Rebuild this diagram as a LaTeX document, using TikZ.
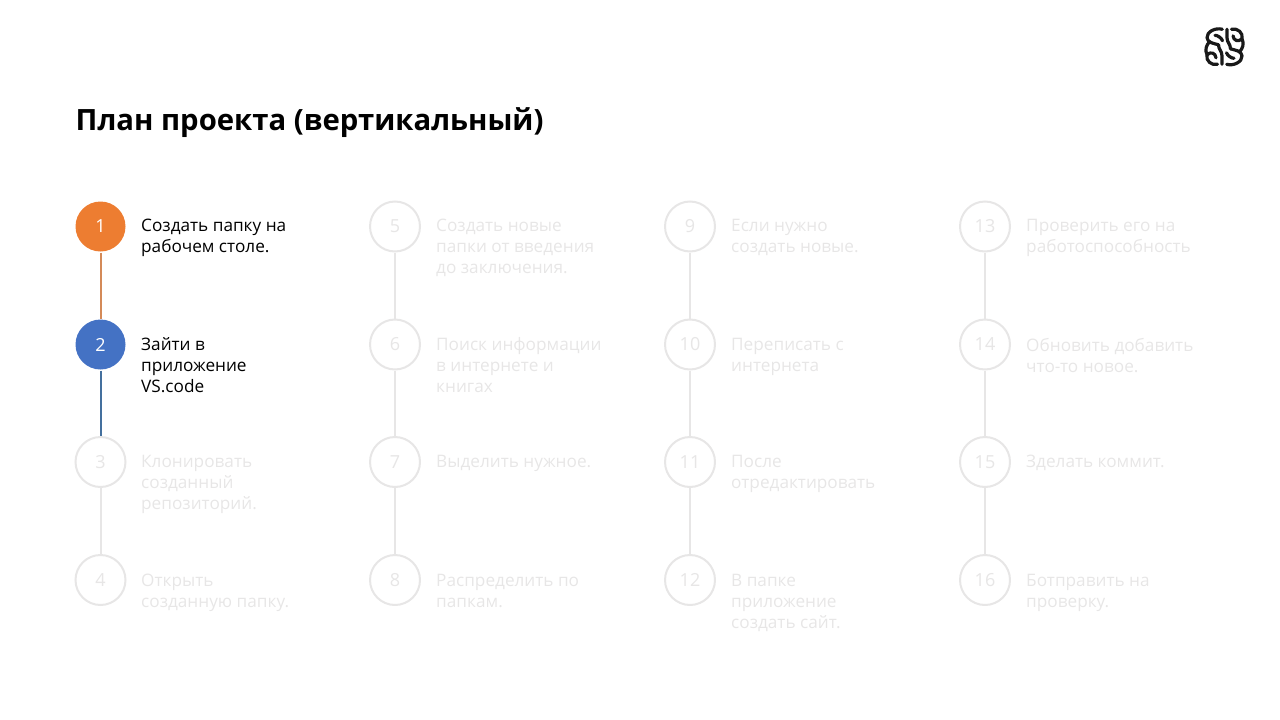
\documentclass[tikz,border=0pt]{standalone}
\usepackage{fontspec}
\setmainfont{Open Sans}
\newfontfamily\headfont{Open Sans}[BoldFont={Open Sans Bold}]
\definecolor{faint}{HTML}{E7E6E6}
\definecolor{orangeA}{HTML}{ED7D31}
\definecolor{blueA}{HTML}{4472C4}
\definecolor{orangeL}{HTML}{D48A58}
\definecolor{blueL}{HTML}{44709E}
\tikzset{
  numdot/.style={circle,minimum size=50pt,inner sep=0pt,line width=2pt,font=\fontsize{18}{21}\selectfont},
  donedot/.style={numdot,text=white},
  faintdot/.style={numdot,draw=faint,fill=white,text=faint},
  steptext/.style={anchor=north west,align=left,inner sep=0pt,font=\fontsize{17.2}{21}\selectfont,execute at begin node={\strut}},
  faintlabel/.style={steptext,text=faint},
  darklabel/.style={steptext,text=black},
  link/.style={line width=2pt,draw=faint},
  brain/.style={line width=3.2pt,draw=black!90,line cap=round,line join=round}
}
\begin{document}
\begin{tikzpicture}[x=1pt,y=-1pt]
\useasboundingbox (0,0) rectangle (1280,720);
\node[anchor=west,inner sep=0pt,font=\headfont\bfseries\fontsize{29.3}{36}\selectfont] (title) at (75.5,123) {План проекта (вертикальный)};
\node[donedot,fill=orangeA] (n1) at (100.5,226.5) {1};
\node[donedot,fill=blueA] (n2) at (100.5,344.5) {2};
\node[faintdot] (n3) at (100.5,462) {3};
\node[faintdot] (n4) at (100.5,580) {4};
\node[faintdot] (n5) at (395,226.5) {5};
\node[faintdot] (n6) at (395,344.5) {6};
\node[faintdot] (n7) at (395,462) {7};
\node[faintdot] (n8) at (395,580) {8};
\node[faintdot] (n9) at (690,226.5) {9};
\node[faintdot] (n10) at (690,344.5) {10};
\node[faintdot] (n11) at (690,462) {11};
\node[faintdot] (n12) at (690,580) {12};
\node[faintdot] (n13) at (985,226.5) {13};
\node[faintdot] (n14) at (985,344.5) {14};
\node[faintdot] (n15) at (985,462) {15};
\node[faintdot] (n16) at (985,580) {16};
\draw[link,draw=orangeL] (n1) -- (n2);
\draw[link,draw=blueL] (n2) -- (n3);
\draw[link] (n3) -- (n4);
\draw[link] (n5) -- (n6);
\draw[link] (n6) -- (n7);
\draw[link] (n7) -- (n8);
\draw[link] (n9) -- (n10);
\draw[link] (n10) -- (n11);
\draw[link] (n11) -- (n12);
\draw[link] (n13) -- (n14);
\draw[link] (n14) -- (n15);
\draw[link] (n15) -- (n16);
\node[darklabel] (t1) at (141,219.3) {Создать папку на\\рабочем столе.};
\node[darklabel] (t2) at (141,337.7) {Зайти в\\приложение\\VS.code};
\node[faintlabel] (t3) at (141,455.3) {Клонировать\\созданный\\репозиторий.};
\node[faintlabel] (t4) at (141,574.3) {Открыть\\созданную папку.};
\node[faintlabel] (t5) at (436,219.3) {Создать новые\\папки от введения\\до заключения.};
\node[faintlabel] (t6) at (436,337.7) {Поиск информации\\в интернете и\\книгах};
\node[faintlabel] (t7) at (436,452.9) {Выделить нужное.};
\node[faintlabel] (t8) at (436,574.3) {Распределить по\\папкам.};
\node[faintlabel] (t9) at (731,219.3) {Если нужно\\создать новые.};
\node[faintlabel] (t10) at (731,337.7) {Переписать с\\интернета};
\node[faintlabel] (t11) at (731,455.3) {После\\отредактировать};
\node[faintlabel] (t12) at (731,574.3) {В папке\\приложение\\создать сайт.};
\node[faintlabel] (t13) at (1026,219.3) {Проверить его на\\работоспособность};
\node[faintlabel] (t14) at (1026,337.7) {Обновить добавить\\что-то новое.};
\node[faintlabel] (t15) at (1026,452.9) {Зделать коммит.};
\node[faintlabel] (t16) at (1026,574.3) {Ботправить на\\проверку.};
\begin{scope}[shift={(1224.5,46.8)}]
\foreach \r in {0,180}{
\begin{scope}[rotate=\r]
\draw[brain] (-2.2,-17.5) .. controls (-9,-19.5) and (-18,-15) .. (-17.5,-9) .. controls (-17,-4) and (-11,-3.5) .. (-6,-2);
\draw[brain] (-2.5,17.5) -- (-2.5,9) .. controls (-2.5,4) and (-6,3) .. (-6,-2);
\draw[brain] (-7,17.5) .. controls (-13,19) and (-19,14) .. (-17.5,8) .. controls (-20,3) and (-18,-2) .. (-15,-5);
\draw[brain] (-17.5,8) .. controls (-14,4.5) and (-9,6) .. (-8.5,11);
\draw[brain] (-9.5,-11.5) .. controls (-7,-11.5) and (-3,-9) .. (-2,-6);
\end{scope}}
\end{scope}
\end{tikzpicture}
\end{document}
